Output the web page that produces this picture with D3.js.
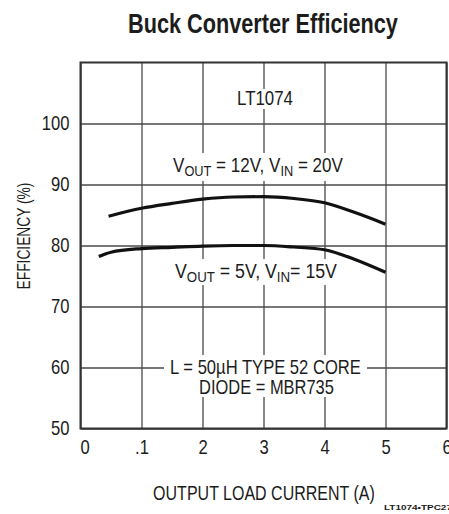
<!DOCTYPE html>
<html>
<head>
<meta charset="utf-8">
<script src="https://cdn.jsdelivr.net/npm/d3@7"></script>
<style>
  html, body { margin: 0; padding: 0; background: #fff; }
  svg { display: block; }
  text { font-family: "Liberation Sans", Arial, Helvetica, sans-serif; fill: #1c1c1c; }
</style>
</head>
<body>
<svg id="chart" width="449" height="514"></svg>
<script>
// ---- data ----
const xTickValues = [0, 1, 2, 3, 4, 5, 6];
const xTickLabels = ["0", ".1", "2", "3", "4", "5", "6"];
const yTickValues = [50, 60, 70, 80, 90, 100];
const yTickLabels = ["50", "60", "70", "80", "90", "100"];

const current12V = [0.46, 1.0, 1.5, 2.0, 2.5, 3.0, 3.5, 4.0, 4.5, 5.0];
const eff12V     = [84.8, 86.1, 86.9, 87.6, 87.95, 88.0, 87.7, 87.0, 85.4, 83.5];

const current5V  = [0.30, 0.5, 1.0, 1.5, 2.0, 2.5, 3.0, 3.5, 4.0, 4.5, 5.0];
const eff5V      = [78.2, 78.9, 79.5, 79.7, 79.9, 80.0, 80.0, 79.75, 79.3, 77.7, 75.6];

const title = "Buck Converter Efficiency";
const xTitle = "OUTPUT LOAD CURRENT (A)";
const yTitle = "EFFICIENCY (%)";
const footnote = "LT1074\u2022TPC27";

// ---- helpers: emulate a condensed face by horizontal scaling ----
function scaleText(node, s) {
  const ax = +(node.getAttribute("x") || 0);
  const prev = node.getAttribute("transform") || "";
  node.setAttribute("transform", `${prev} translate(${ax},0) scale(${s},1) translate(${-ax},0)`);
}
function fitWidth(sel, target) {
  sel.each(function () { scaleText(this, target / this.getComputedTextLength()); });
  return sel;
}
function condense(sel, s) {
  sel.each(function () { scaleText(this, s); });
  return sel;
}

// ---- layout ----
const svg = d3.select("#chart");
const pLeft = 80.5, pRight = 446.5, pTop = 62.5, pBottom = 428.5;
const x = d3.scaleLinear().domain([0, 6]).range([pLeft, pRight]);
const y = d3.scaleLinear().domain([50, 110]).range([pBottom, pTop]);

// gridlines via axes
const gridColor = "#4a4a4a";
const gx = svg.append("g")
  .attr("transform", `translate(0,${pBottom})`)
  .call(d3.axisBottom(x).tickValues(xTickValues).tickSize(-(pBottom - pTop)).tickFormat(""));
const gy = svg.append("g")
  .attr("transform", `translate(${pLeft},0)`)
  .call(d3.axisLeft(y).tickValues(yTickValues).tickSize(-(pRight - pLeft)).tickFormat(""));
[gx, gy].forEach(g => {
  g.select(".domain").remove();
  g.selectAll("line").attr("stroke", gridColor).attr("stroke-width", 1.3);
});

// tick labels via axes (no lines)
const lx = svg.append("g")
  .attr("transform", `translate(0,${pBottom})`)
  .call(d3.axisBottom(x).tickValues(xTickValues).tickSize(0).tickPadding(11)
        .tickFormat((d, i) => xTickLabels[i]));
const ly = svg.append("g")
  .attr("transform", `translate(${pLeft},0)`)
  .call(d3.axisLeft(y).tickValues(yTickValues).tickSize(0).tickPadding(11)
        .tickFormat((d, i) => yTickLabels[i]));
[lx, ly].forEach(g => {
  g.select(".domain").remove();
  g.selectAll("text").attr("font-size", 20).attr("fill", "#1c1c1c")
    .attr("font-family", '"Liberation Sans", Arial, sans-serif');
});
lx.selectAll(".tick").filter(d => d === 0).select("text").attr("x", 4);
condense(lx.selectAll("text"), 0.83);
condense(ly.selectAll("text"), 0.83);

// white label backgrounds (interrupt gridlines)
const bgs = [
  [233, 89, 297, 109],   // LT1074
  [168, 153, 348, 181],  // 12V label
  [170, 259, 343, 285],  // 5V label
  [164, 355, 367, 397]   // L / DIODE
];
svg.append("g").selectAll("rect").data(bgs).join("rect")
  .attr("x", d => d[0]).attr("y", d => d[1])
  .attr("width", d => d[2] - d[0]).attr("height", d => d[3] - d[1])
  .attr("fill", "#fff");

// in-plot texts
function subLabel(cx, base, parts) {
  const t = svg.append("text").attr("x", cx).attr("y", base)
    .attr("text-anchor", "middle").attr("font-size", 20);
  parts.forEach(p => {
    if (p.sub) t.append("tspan").text(p.t).attr("font-size", 15).attr("dy", 4);
    else t.append("tspan").text(p.t).attr("dy", p.after ? -4 : 0);
  });
  return t;
}
function plain(cx, base, str, size) {
  return svg.append("text").attr("x", cx).attr("y", base)
    .attr("text-anchor", "middle").attr("font-size", size).text(str);
}
fitWidth(plain(265, 105.5, "LT1074", 20), 56);
fitWidth(subLabel(258, 172, [{t: "V"}, {t: "OUT", sub: true}, {t: " = 12V, V", after: true}, {t: "IN", sub: true}, {t: " = 20V", after: true}]), 170);
fitWidth(subLabel(256, 278, [{t: "V"}, {t: "OUT", sub: true}, {t: " = 5V, V", after: true}, {t: "IN", sub: true}, {t: "= 15V", after: true}]), 162);
fitWidth(plain(265.5, 374, "L = 50\u00B5H TYPE 52 CORE", 20), 191);
fitWidth(plain(266.5, 394, "DIODE = MBR735", 20), 135);

// curves
const line = d3.line().x(d => x(d[0])).y(d => y(d[1])).curve(d3.curveMonotoneX);
[[current12V, eff12V], [current5V, eff5V]].forEach(([xs, ys]) => {
  svg.append("path").datum(xs.map((v, i) => [v, ys[i]]))
    .attr("d", line).attr("fill", "none").attr("stroke", "#111")
    .attr("stroke-width", 3.2).attr("stroke-linecap", "butt");
});

// frame
svg.append("rect").attr("x", pLeft).attr("y", pTop)
  .attr("width", pRight - pLeft).attr("height", pBottom - pTop)
  .attr("fill", "none").attr("stroke", "#333").attr("stroke-width", 2);

// titles
fitWidth(svg.append("text").attr("x", 263).attr("y", 33).attr("text-anchor", "middle")
  .attr("font-size", 27).attr("font-weight", "bold").text(title), 270);
fitWidth(plain(264, 500, xTitle, 19.5), 222);
fitWidth(svg.append("text").attr("transform", "translate(30,236) rotate(-90)")
  .attr("text-anchor", "middle").attr("font-size", 18).text(yTitle), 107);
fitWidth(svg.append("text").attr("x", 384).attr("y", 510).attr("font-size", 8)
  .attr("font-weight", "bold").text(footnote), 68);
</script>
</body>
</html>
